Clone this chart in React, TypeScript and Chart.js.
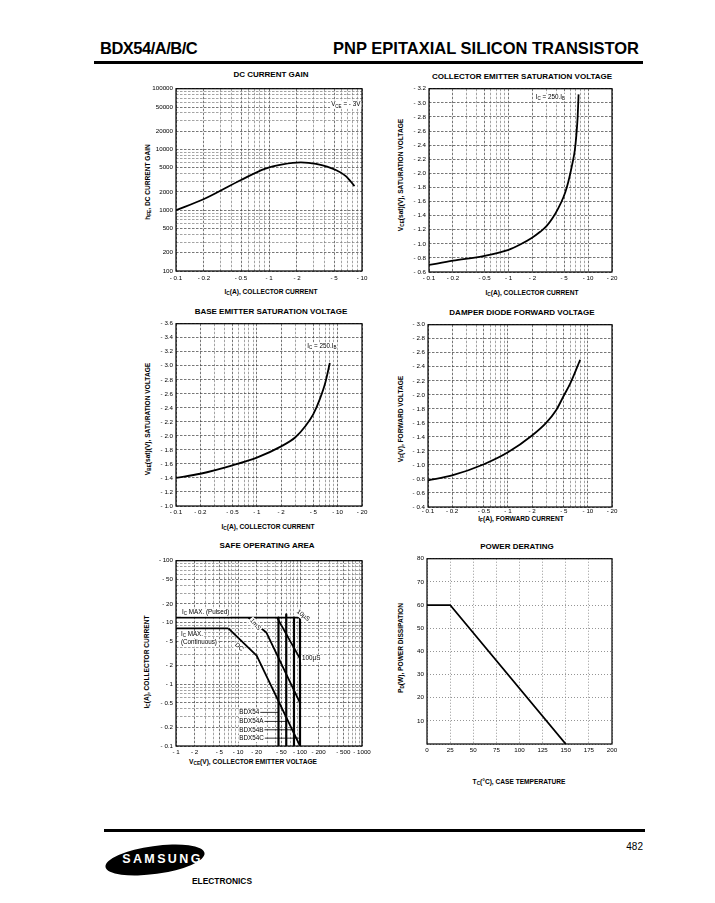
import React, { useEffect, useRef } from "react";
import { Chart, registerables } from "chart.js";

Chart.register(...registerables);

const FONT = "'Liberation Sans', Arial, Helvetica, sans-serif";
Chart.defaults.font.family = FONT;

// ---------------- DC CURRENT GAIN ----------------
const gainIc = [0.1, 0.2, 0.5, 0.9, 1.4, 2.2, 3.2, 5.3, 6.7, 8.3];
const gainHfe = [1000, 1530, 3150, 4800, 5700, 6150, 5800, 4550, 3650, 2500];
const gainXTicks = [0.1, 0.2, 0.5, 1, 2, 5, 10];
const gainXLabels = ["- 0.1", "- 0.2", "- 0.5", "- 1", "- 2", "- 5", "- 10"];
const gainYTicks = [100, 200, 500, 1000, 2000, 5000, 10000, 20000, 50000, 100000];
const gainYLabels = ["100", "200", "500", "1000", "2000", "5000", "10000", "20000", "50000", "100000"];

// ---------------- COLLECTOR EMITTER SATURATION VOLTAGE ----------------
const ceIc = [0.1, 0.2, 0.5, 1, 1.4, 2, 2.5, 3, 3.6, 4.2, 4.9, 5.4, 5.9, 6.3, 6.8, 7.1, 7.4, 7.6];
const ceVsat = [0.7, 0.76, 0.83, 0.915, 0.99, 1.09, 1.17, 1.25, 1.37, 1.5, 1.66, 1.8, 1.97, 2.12, 2.32, 2.52, 2.8, 3.12];
const satXTicks = [0.1, 0.2, 0.5, 1, 2, 5, 10, 20];
const satXLabels = ["- 0.1", "- 0.2", "- 0.5", "- 1", "- 2", "- 5", "- 10", "- 20"];
const ceYTicks = [0.6, 0.8, 1.0, 1.2, 1.4, 1.6, 1.8, 2.0, 2.2, 2.4, 2.6, 2.8, 3.0, 3.2];
const ceYLabels = ["- 0.6", "- 0.8", "- 1.0", "- 1.2", "- 1.4", "- 1.6", "- 1.8", "- 2.0", "- 2.2", "- 2.4", "- 2.6", "- 2.8", "- 3.0", "- 3.2"];

// ---------------- BASE EMITTER SATURATION VOLTAGE ----------------
const beIc = [0.1, 0.2, 0.5, 1, 2, 3, 4, 5, 6, 7, 8];
const beVsat = [1.4, 1.46, 1.58, 1.69, 1.85, 1.98, 2.14, 2.31, 2.52, 2.75, 3.04];
const beYTicks = [1.0, 1.2, 1.4, 1.6, 1.8, 2.0, 2.2, 2.4, 2.6, 2.8, 3.0, 3.2, 3.4, 3.6];
const beYLabels = ["- 1.0", "- 1.2", "- 1.4", "- 1.6", "- 1.8", "- 2.0", "- 2.2", "- 2.4", "- 2.6", "- 2.8", "- 3.0", "- 3.2", "- 3.4", "- 3.6"];

// ---------------- DAMPER DIODE FORWARD VOLTAGE ----------------
const diodeIf = [0.1, 0.2, 0.5, 1, 2, 3, 4, 5, 6, 8];
const diodeVf = [0.78, 0.85, 1.01, 1.18, 1.42, 1.6, 1.78, 1.99, 2.16, 2.5];
const dYTicks = [0.4, 0.6, 0.8, 1.0, 1.2, 1.4, 1.6, 1.8, 2.0, 2.2, 2.4, 2.6, 2.8, 3.0];
const dYLabels = ["- 0.4", "- 0.6", "- 0.8", "- 1.0", "- 1.2", "- 1.4", "- 1.6", "- 1.8", "- 2.0", "- 2.2", "- 2.4", "- 2.6", "- 2.8", "- 3.0"];

// ---------------- SAFE OPERATING AREA ----------------
const pulsedV = [1, 100];
const pulsedI = [12, 12];
const contV = [1, 7];
const contI = [8, 8];
const dcV = [7, 20, 100];
const dcI = [8, 2.9, 0.1];
const ms1V = [14.7, 28.6, 100];
const ms1I = [12, 6.9, 0.5];
const us10V = [42.7, 100];
const us10I = [12, 2.6];
const ratingV = [45, 60, 80, 100];
const ratingTopI = [12, 13.5, 12, 12];
const ratingBottomI = [0.1, 0.1, 0.1, 0.1];
const ratingNames = ["BDX54", "BDX54A", "BDX54B", "BDX54C"];
const ratingLabelI = [0.35, 0.25, 0.183, 0.134];
const soaXTicks = [1, 2, 5, 10, 20, 50, 100, 200, 500, 1000];
const soaXLabels = ["- 1", "- 2", "- 5", "- 10", "- 20", "- 50", "- 100", "- 200", "- 500", "- 1000"];
const soaYTicks = [0.1, 0.2, 0.5, 1, 2, 5, 10, 20, 50, 100];
const soaYLabels = ["- 0.1", "- 0.2", "- 0.5", "- 1", "- 2", "- 5", "- 10", "- 20", "- 50", "- 100"];

// ---------------- POWER DERATING ----------------
const caseTemp = [0, 25, 150];
const powerW = [60, 60, 0];
const pdXTicks = [0, 25, 50, 75, 100, 125, 150, 175, 200];
const pdXLabels = ["0", "25", "50", "75", "100", "125", "150", "175", "200"];
const pdYTicks = [0, 10, 20, 30, 40, 50, 60, 70, 80];
const pdYLabels = ["", "10", "20", "30", "40", "50", "60", "70", "80"];

// ---------------------------------------------------------------------

function logGrid(lo: number, hi: number): number[] {
  const out: number[] = [];
  for (let e = Math.floor(Math.log10(lo)); e <= Math.ceil(Math.log10(hi)); e++) {
    for (let m = 1; m < 10; m++) {
      const v = parseFloat((m * Math.pow(10, e)).toPrecision(6));
      if (v >= lo * 0.9999 && v <= hi * 1.0001) out.push(v);
    }
  }
  return out;
}

type Axis = {
  type: "logarithmic" | "linear";
  min: number;
  max: number;
  grid: number[];
  ticks: number[];
  labels: string[];
  dotted?: boolean;
  pad?: number;
};
type Series = { xs: number[]; ys: number[]; smooth?: boolean; width?: number };
type Note = {
  x: number;
  y: number;
  parts: [string, boolean?][];
  align?: "left" | "right" | "center";
  rot?: number;
  leaderTo?: number;
  size?: number;
};
type PanelSpec = {
  plot: { l: number; t: number; r: number; b: number };
  x: Axis;
  y: Axis;
  series: Series[];
  notes: Note[];
};

const YW = 44;
const PT = 6;
const PR = 12;
const XH = 14;

function findLabel(a: Axis, v: number): number {
  return a.ticks.findIndex((t) => Math.abs(t - v) <= Math.abs(t) * 1e-6 + 1e-9);
}

function scaleOpts(a: Axis, isX: boolean) {
  return {
    type: a.type,
    min: a.min,
    max: a.max,
    position: isX ? "bottom" : "left",
    afterBuildTicks: (s: any) => {
      s.ticks = a.grid.map((v) => ({ value: v }));
    },
    afterFit: (s: any) => {
      if (isX) s.height = XH;
      else s.width = YW;
    },
    ticks: {
      autoSkip: false,
      maxRotation: 0,
      minRotation: 0,
      padding: a.pad != null ? a.pad : 3,
      color: "#000",
      font: { family: FONT, size: 6.2 },
      callback: (v: number) => {
        const i = findLabel(a, v);
        return i >= 0 ? a.labels[i] : "";
      },
    },
    grid: {
      drawTicks: false,
      lineWidth: a.dotted ? 0.8 : 0.7,
      color: (c: any) => {
        const v = c.tick ? c.tick.value : NaN;
        if (a.dotted) return "#7a7a7a";
        return findLabel(a, v) >= 0 ? "#3c3c3c" : "#7c7c7c";
      },
    },
    border: { display: false, dash: a.dotted ? [1, 2] : [2.5, 1.5] },
  };
}

const framePlugin = {
  id: "frame",
  afterDatasetsDraw(chart: any) {
    const { ctx, chartArea: a } = chart;
    ctx.save();
    ctx.strokeStyle = "#000";
    ctx.lineWidth = 1.2;
    ctx.strokeRect(a.left, a.top, a.right - a.left, a.bottom - a.top);
    ctx.restore();
  },
};

function makeNotesPlugin(items: Note[]) {
  return {
    id: "notes",
    afterDraw(chart: any) {
      const { ctx } = chart;
      const xs = chart.scales.x;
      const ys = chart.scales.y;
      items.forEach((n) => {
        const px = xs.getPixelForValue(n.x);
        const py = ys.getPixelForValue(n.y);
        const size = n.size || 6.3;
        ctx.save();
        ctx.translate(px, py);
        if (n.rot) ctx.rotate((n.rot * Math.PI) / 180);
        let total = 0;
        const segs = n.parts.map(([t, sub]) => {
          const f = `${sub ? size * 0.72 : size}px ${FONT}`;
          ctx.font = f;
          const w = ctx.measureText(t).width;
          total += w;
          return { t, sub, f, w };
        });
        let x0 = n.align === "right" ? -total : n.align === "center" ? -total / 2 : 0;
        ctx.fillStyle = "#fff";
        ctx.fillRect(x0 - 1, -size * 0.55, total + 2, size * 1.2);
        ctx.fillStyle = "#000";
        ctx.textBaseline = "middle";
        ctx.textAlign = "left";
        segs.forEach((s) => {
          ctx.font = s.f;
          ctx.fillText(s.t, x0, s.sub ? size * 0.28 : 0);
          x0 += s.w;
        });
        if (n.leaderTo != null) {
          const lx = xs.getPixelForValue(n.leaderTo) - px;
          ctx.beginPath();
          ctx.moveTo(x0 + 1, 0);
          ctx.lineTo(lx, 0);
          ctx.lineWidth = 0.8;
          ctx.strokeStyle = "#000";
          ctx.stroke();
        }
        ctx.restore();
      });
    },
  };
}

function makeConfig(p: PanelSpec): any {
  return {
    type: "line",
    data: {
      datasets: p.series.map((s) => ({
        data: s.xs.map((x, i) => ({ x, y: s.ys[i] })),
        borderColor: "#000",
        borderWidth: s.width || 1.8,
        pointRadius: 0,
        fill: false,
        tension: 0,
        cubicInterpolationMode: s.smooth ? "monotone" : "default",
        borderCapStyle: "butt",
        borderJoinStyle: "round",
      })),
    },
    options: {
      responsive: false,
      animation: false,
      events: [],
      layout: { padding: { top: PT, right: PR, left: 0, bottom: 0 } },
      plugins: {
        legend: { display: false },
        tooltip: { enabled: false },
        title: { display: false },
      },
      scales: { x: scaleOpts(p.x, true), y: scaleOpts(p.y, false) },
    },
    plugins: [framePlugin, makeNotesPlugin(p.notes)],
  };
}

const satX: Axis = { type: "logarithmic", min: 0.1, max: 20, grid: logGrid(0.1, 20), ticks: satXTicks, labels: satXLabels };

const PANELS: PanelSpec[] = [
  {
    plot: { l: 176, t: 88, r: 362, b: 271 },
    x: { type: "logarithmic", min: 0.1, max: 10, grid: logGrid(0.1, 10), ticks: gainXTicks, labels: gainXLabels, pad: 4 },
    y: { type: "logarithmic", min: 100, max: 100000, grid: logGrid(100, 100000), ticks: gainYTicks, labels: gainYLabels },
    series: [{ xs: gainIc, ys: gainHfe, smooth: true }],
    notes: [{ x: 9.6, y: 55000, parts: [["V"], ["CE", true], [" = - 3V"]], align: "right" }],
  },
  {
    plot: { l: 429, t: 88, r: 612, b: 272 },
    x: satX,
    y: { type: "linear", min: 0.6, max: 3.2, grid: ceYTicks, ticks: ceYTicks, labels: ceYLabels },
    series: [{ xs: ceIc, ys: ceVsat, smooth: true }],
    notes: [{ x: 2.2, y: 3.08, parts: [["I"], ["C", true], [" = 250.I"], ["B", true]], align: "left" }],
  },
  {
    plot: { l: 176, t: 323, r: 362, b: 506 },
    x: satX,
    y: { type: "linear", min: 1.0, max: 3.6, grid: beYTicks, ticks: beYTicks, labels: beYLabels },
    series: [{ xs: beIc, ys: beVsat, smooth: true }],
    notes: [{ x: 4.2, y: 3.28, parts: [["I"], ["C", true], [" = 250.I"], ["B", true]], align: "left" }],
  },
  {
    plot: { l: 428, t: 324, r: 612, b: 507 },
    x: { ...satX, pad: 1 },
    y: { type: "linear", min: 0.4, max: 3.0, grid: dYTicks, ticks: dYTicks, labels: dYLabels },
    series: [{ xs: diodeIf, ys: diodeVf, smooth: true }],
    notes: [],
  },
  {
    plot: { l: 176, t: 560, r: 362, b: 746 },
    x: { type: "logarithmic", min: 1, max: 1000, grid: logGrid(1, 1000), ticks: soaXTicks, labels: soaXLabels },
    y: { type: "logarithmic", min: 0.1, max: 100, grid: logGrid(0.1, 100), ticks: soaYTicks, labels: soaYLabels },
    series: [
      { xs: pulsedV, ys: pulsedI, width: 1.8 },
      { xs: contV, ys: contI, width: 1.8 },
      { xs: dcV, ys: dcI, width: 1.8 },
      { xs: ms1V, ys: ms1I, width: 1.8 },
      { xs: us10V, ys: us10I, width: 1.8 },
      ...ratingV.map((v, i) => ({ xs: [v, v], ys: [ratingTopI[i], ratingBottomI[i]], width: 2.2 })),
    ],
    notes: [
      { x: 1.25, y: 14.6, parts: [["I"], ["C", true], [" MAX. (Pulsed)"]], align: "left" },
      { x: 1.2, y: 6.4, parts: [["I"], ["C", true], [" MAX."]], align: "left" },
      { x: 1.2, y: 4.7, parts: [["(Continuous)"]], align: "left" },
      { x: 10.4, y: 4.0, parts: [["DC"]], align: "center", rot: 42 },
      { x: 19, y: 9.3, parts: [["1mS"]], align: "center", rot: 50 },
      { x: 112, y: 13, parts: [["10µS"]], align: "center", rot: 38 },
      { x: 108, y: 2.65, parts: [["100µS"]], align: "left" },
      ...ratingNames.map((name, i) => ({
        x: 10.5,
        y: ratingLabelI[i],
        parts: [[name]] as [string, boolean?][],
        align: "left" as const,
        leaderTo: ratingV[i],
      })),
    ],
  },
  {
    plot: { l: 427, t: 558, r: 612, b: 744 },
    x: { type: "linear", min: 0, max: 200, grid: pdXTicks, ticks: pdXTicks, labels: pdXLabels, dotted: true },
    y: { type: "linear", min: 0, max: 80, grid: pdYTicks, ticks: pdYTicks, labels: pdYLabels, dotted: true },
    series: [{ xs: caseTemp, ys: powerW, width: 1.8 }],
    notes: [],
  },
];

function Panel({ spec }: { spec: PanelSpec }) {
  const ref = useRef<HTMLCanvasElement>(null);
  const { l, t, r, b } = spec.plot;
  const W = r - l + YW + PR;
  const H = b - t + PT + XH;
  useEffect(() => {
    if (!ref.current) return;
    const chart = new Chart(ref.current, makeConfig(spec));
    return () => chart.destroy();
  }, []);
  return (
    <div style={{ position: "absolute", left: l - YW, top: t - PT, width: W, height: H }}>
      <canvas ref={ref} width={W} height={H} style={{ width: W, height: H, display: "block" }} />
    </div>
  );
}

function Txt({
  x,
  y,
  size,
  bold = true,
  anchor = "center",
  rotate = 0,
  sx = 1,
  children,
  style,
}: {
  x: number;
  y: number;
  size: number;
  bold?: boolean;
  anchor?: "left" | "center" | "right";
  rotate?: number;
  sx?: number;
  children: React.ReactNode;
  style?: React.CSSProperties;
}) {
  const tx = anchor === "left" ? "0" : anchor === "right" ? "-100%" : "-50%";
  return (
    <div
      style={{
        position: "absolute",
        left: x,
        top: y,
        transform: `translate(${tx},-50%) rotate(${rotate}deg) scaleX(${sx})`,
        transformOrigin: anchor === "center" ? "50% 50%" : anchor === "left" ? "0 50%" : "100% 50%",
        fontFamily: FONT,
        fontSize: size,
        fontWeight: bold ? 700 : 400,
        lineHeight: 1,
        whiteSpace: "nowrap",
        color: "#000",
        ...style,
      }}
    >
      {children}
    </div>
  );
}

const Sub = ({ children }: { children: React.ReactNode }) => (
  <span style={{ fontSize: "0.72em", position: "relative", top: "0.28em" }}>{children}</span>
);

const TS = 8;
const AS = 6.6;

export default function App() {
  return (
    <div
      style={{
        position: "absolute",
        left: 0,
        top: 0,
        width: 715,
        height: 903,
        overflow: "hidden",
        background: "#fff",
        fontFamily: FONT,
      }}
    >
      {/* header */}
      <Txt x={100} y={48} size={16.5} anchor="left" style={{ letterSpacing: -0.5 }}>
        BDX54/A/B/C
      </Txt>
      <Txt x={639} y={48} size={16.5} anchor="right">
        PNP EPITAXIAL SILICON TRANSISTOR
      </Txt>
      <div style={{ position: "absolute", left: 94, top: 61, width: 549, height: 2.5, background: "#000" }} />

      {/* chart titles */}
      <Txt x={271} y={75} size={TS}>DC CURRENT GAIN</Txt>
      <Txt x={522} y={77} size={TS}>COLLECTOR EMITTER SATURATION VOLTAGE</Txt>
      <Txt x={271} y={312} size={TS}>BASE EMITTER SATURATION VOLTAGE</Txt>
      <Txt x={522} y={313} size={TS}>DAMPER DIODE FORWARD VOLTAGE</Txt>
      <Txt x={267} y={546} size={TS}>SAFE OPERATING AREA</Txt>
      <Txt x={517} y={547} size={TS}>POWER DERATING</Txt>

      {/* x axis titles */}
      <Txt x={271} y={292} size={AS}>I<Sub>C</Sub>(A), COLLECTOR CURRENT</Txt>
      <Txt x={532} y={293} size={AS}>I<Sub>C</Sub>(A), COLLECTOR CURRENT</Txt>
      <Txt x={268} y={527} size={AS}>I<Sub>C</Sub>(A), COLLECTOR CURRENT</Txt>
      <Txt x={521} y={519} size={AS}>I<Sub>F</Sub>(A), FORWARD CURRENT</Txt>
      <Txt x={253} y={762} size={AS}>V<Sub>CE</Sub>(V), COLLECTOR EMITTER VOLTAGE</Txt>
      <Txt x={519} y={782} size={AS}>T<Sub>C</Sub>(°C), CASE TEMPERATURE</Txt>

      {/* y axis titles */}
      <Txt x={148} y={182} size={AS} rotate={-90}>h<Sub>FE</Sub>, DC CURRENT GAIN</Txt>
      <Txt x={401} y={175} size={AS} rotate={-90}>V<Sub>CE</Sub>(sat)(V), SATURATION VOLTAGE</Txt>
      <Txt x={148} y={419} size={AS} rotate={-90}>V<Sub>BE</Sub>(sat)(V), SATURATION VOLTAGE</Txt>
      <Txt x={401} y={419} size={AS} rotate={-90}>V<Sub>F</Sub>(V), FORWARD VOLTAGE</Txt>
      <Txt x={147} y={662} size={AS} rotate={-90}>I<Sub>C</Sub>(A), COLLECTOR CURRENT</Txt>
      <Txt x={401} y={648} size={AS} rotate={-90}>P<Sub>D</Sub>(W), POWER DISSIPATION</Txt>

      {PANELS.map((p, i) => (
        <Panel key={i} spec={p} />
      ))}

      {/* footer */}
      <div style={{ position: "absolute", left: 104, top: 829, width: 541, height: 3, background: "#000" }} />
      <Txt x={643} y={847} size={10} bold={false} anchor="right">482</Txt>
      <div
        style={{
          position: "absolute",
          left: 105,
          top: 846,
          width: 100,
          height: 28,
          borderRadius: "50%",
          background: "#000",
          transform: "rotate(-8deg)",
        }}
      />
      <Txt x={162.5} y={858.5} size={12.5} style={{ color: "#fff", letterSpacing: 2.4 }}>SAMSUNG</Txt>
      <Txt x={222} y={881.5} size={9.3} sx={0.9}>ELECTRONICS</Txt>
    </div>
  );
}
